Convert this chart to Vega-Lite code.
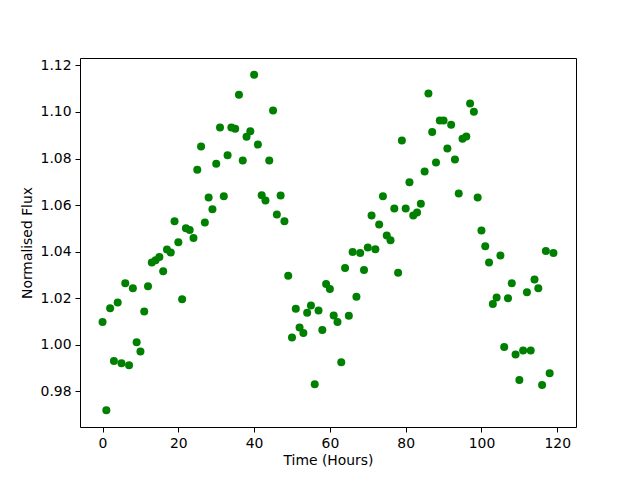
{
  "$schema": "https://vega.github.io/schema/vega-lite/v6.json",
  "width": 496,
  "height": 369,
  "autosize": "none",
  "padding": {"left": 80, "top": 58, "right": 64, "bottom": 53},
  "background": "white",
  "config": {
    "view": {"stroke": "black", "strokeWidth": 1},
    "axis": {
      "grid": false,
      "domain": false,
      "tickColor": "black",
      "tickSize": 5,
      "tickWidth": 1,
      "labelFont": "DejaVu Sans",
      "labelFontSize": 13.9,
      "labelColor": "black",
      "labelPadding": 4,
      "titleFont": "DejaVu Sans",
      "titleFontSize": 13.9,
      "titleFontWeight": "normal",
      "titleColor": "black"
    }
  },
  "data": {
    "values": [
      {"t": 0, "f": 1.0097}, {"t": 1, "f": 0.9718}, {"t": 2, "f": 1.0156}, {"t": 3, "f": 0.9930},
      {"t": 4, "f": 1.0181}, {"t": 5, "f": 0.9920}, {"t": 6, "f": 1.0264}, {"t": 7, "f": 0.9911},
      {"t": 8, "f": 1.0242}, {"t": 9, "f": 1.0010}, {"t": 10, "f": 0.9971}, {"t": 11, "f": 1.0142},
      {"t": 12, "f": 1.0251}, {"t": 13, "f": 1.0353}, {"t": 14, "f": 1.0363}, {"t": 15, "f": 1.0377},
      {"t": 16, "f": 1.0315}, {"t": 17, "f": 1.0409}, {"t": 18, "f": 1.0396}, {"t": 19, "f": 1.0530},
      {"t": 20, "f": 1.0440}, {"t": 21, "f": 1.0195}, {"t": 22, "f": 1.0500}, {"t": 23, "f": 1.0493},
      {"t": 24, "f": 1.0458}, {"t": 25, "f": 1.0752}, {"t": 26, "f": 1.0852}, {"t": 27, "f": 1.0525},
      {"t": 28, "f": 1.0632}, {"t": 29, "f": 1.0582}, {"t": 30, "f": 1.0778}, {"t": 31, "f": 1.0933},
      {"t": 32, "f": 1.0638}, {"t": 33, "f": 1.0814}, {"t": 34, "f": 1.0933}, {"t": 35, "f": 1.0928},
      {"t": 36, "f": 1.1074}, {"t": 37, "f": 1.0791}, {"t": 38, "f": 1.0893}, {"t": 39, "f": 1.0917},
      {"t": 40, "f": 1.1160}, {"t": 41, "f": 1.0860}, {"t": 42, "f": 1.0642}, {"t": 43, "f": 1.0619},
      {"t": 44, "f": 1.0791}, {"t": 45, "f": 1.1006}, {"t": 46, "f": 1.0559}, {"t": 47, "f": 1.0641},
      {"t": 48, "f": 1.0530}, {"t": 49, "f": 1.0296}, {"t": 50, "f": 1.0031}, {"t": 51, "f": 1.0154},
      {"t": 52, "f": 1.0074}, {"t": 53, "f": 1.0050}, {"t": 54, "f": 1.0137}, {"t": 55, "f": 1.0168},
      {"t": 56, "f": 0.9830}, {"t": 57, "f": 1.0147}, {"t": 58, "f": 1.0063}, {"t": 59, "f": 1.0261},
      {"t": 60, "f": 1.0239}, {"t": 61, "f": 1.0125}, {"t": 62, "f": 1.0097}, {"t": 63, "f": 0.9924},
      {"t": 64, "f": 1.0329}, {"t": 65, "f": 1.0124}, {"t": 66, "f": 1.0398}, {"t": 67, "f": 1.0206},
      {"t": 68, "f": 1.0394}, {"t": 69, "f": 1.0321}, {"t": 70, "f": 1.0418}, {"t": 71, "f": 1.0555},
      {"t": 72, "f": 1.0410}, {"t": 73, "f": 1.0516}, {"t": 74, "f": 1.0638}, {"t": 75, "f": 1.0469},
      {"t": 76, "f": 1.0449}, {"t": 77, "f": 1.0585}, {"t": 78, "f": 1.0309}, {"t": 79, "f": 1.0877},
      {"t": 80, "f": 1.0585}, {"t": 81, "f": 1.0698}, {"t": 82, "f": 1.0555}, {"t": 83, "f": 1.0568},
      {"t": 84, "f": 1.0606}, {"t": 85, "f": 1.0744}, {"t": 86, "f": 1.1079}, {"t": 87, "f": 1.0914},
      {"t": 88, "f": 1.0783}, {"t": 89, "f": 1.0963}, {"t": 90, "f": 1.0963}, {"t": 91, "f": 1.0843},
      {"t": 92, "f": 1.0945}, {"t": 93, "f": 1.0796}, {"t": 94, "f": 1.0650}, {"t": 95, "f": 1.0885},
      {"t": 96, "f": 1.0895}, {"t": 97, "f": 1.1036}, {"t": 98, "f": 1.1001}, {"t": 99, "f": 1.0632},
      {"t": 100, "f": 1.0491}, {"t": 101, "f": 1.0423}, {"t": 102, "f": 1.0353}, {"t": 103, "f": 1.0175},
      {"t": 104, "f": 1.0203}, {"t": 105, "f": 1.0383}, {"t": 106, "f": 0.9990}, {"t": 107, "f": 1.0199},
      {"t": 108, "f": 1.0264}, {"t": 109, "f": 0.9958}, {"t": 110, "f": 0.9848}, {"t": 111, "f": 0.9975},
      {"t": 112, "f": 1.0225}, {"t": 113, "f": 0.9975}, {"t": 114, "f": 1.0280}, {"t": 115, "f": 1.0242},
      {"t": 116, "f": 0.9826}, {"t": 117, "f": 1.0402}, {"t": 118, "f": 0.9877}, {"t": 119, "f": 1.0394}
    ]
  },
  "mark": {"type": "point", "shape": "circle", "filled": true, "color": "#008000", "opacity": 1, "size": 64},
  "encoding": {
    "x": {
      "field": "t",
      "type": "quantitative",
      "title": "Time (Hours)",
      "scale": {"domain": [-5.95, 124.95], "nice": false, "zero": false},
      "axis": {"values": [0, 20, 40, 60, 80, 100, 120], "titlePadding": 4}
    },
    "y": {
      "field": "f",
      "type": "quantitative",
      "title": "Normalised Flux",
      "scale": {"domain": [0.9646, 1.1232], "nice": false, "zero": false},
      "axis": {"values": [0.98, 1.0, 1.02, 1.04, 1.06, 1.08, 1.1, 1.12], "format": ".2f", "titlePadding": 6}
    }
  }
}
